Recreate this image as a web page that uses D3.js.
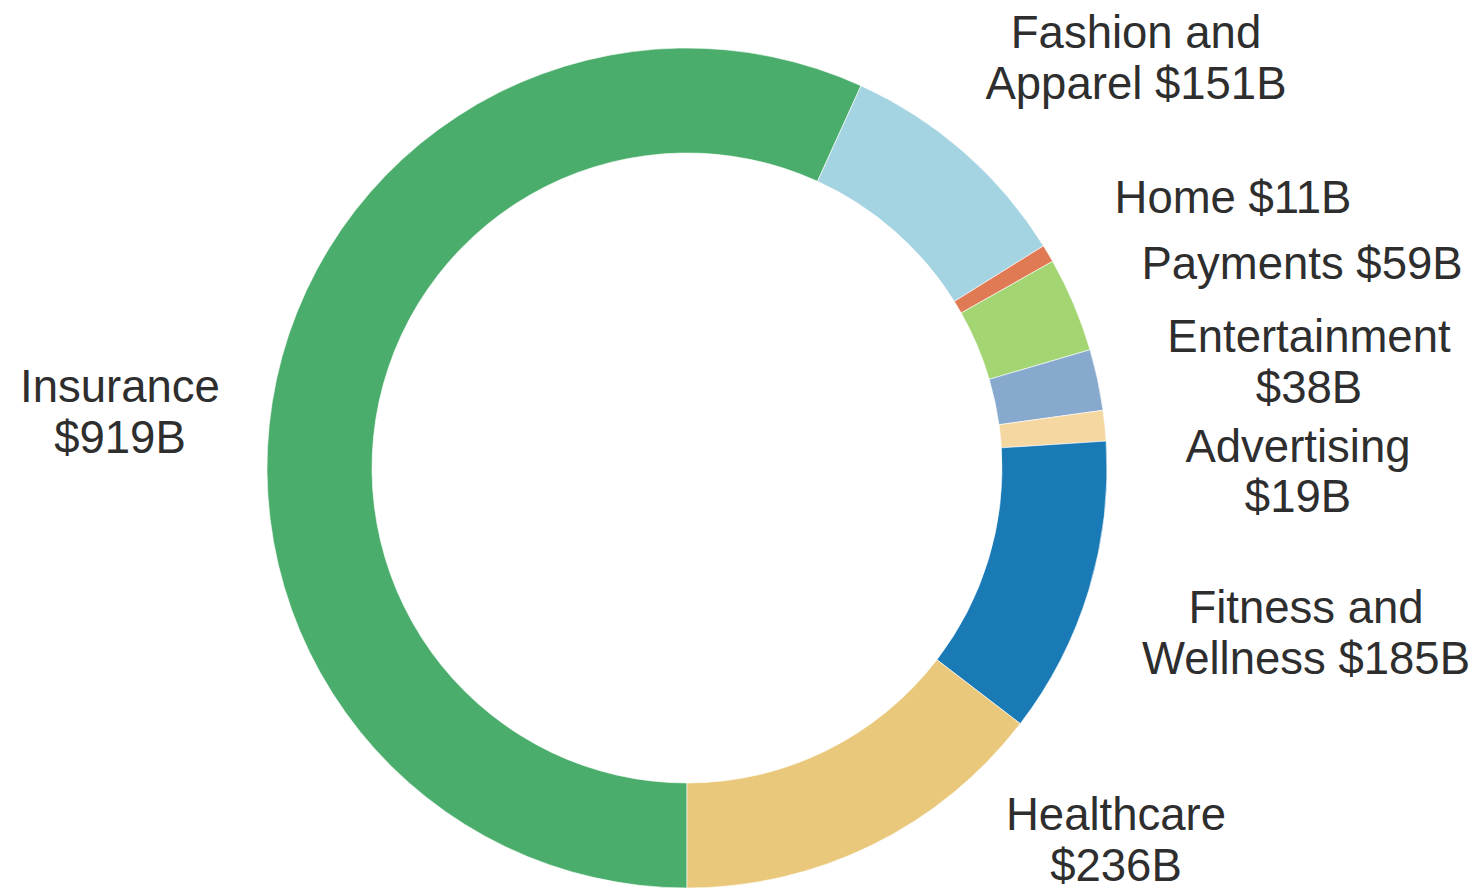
<!DOCTYPE html>
<html>
<head>
<meta charset="utf-8">
<script src="https://cdn.jsdelivr.net/npm/d3@7"></script>
<style>
  html, body { margin: 0; padding: 0; background: #ffffff; }
  svg { display: block; }
</style>
</head>
<body>
<svg id="chart" width="1480" height="892"></svg>
<script>
// Data
const categories = ["Insurance", "Fashion and Apparel", "Home", "Payments", "Entertainment", "Advertising", "Fitness and Wellness", "Healthcare"];
const values = [919, 151, 11, 59, 38, 19, 185, 236];
const colors = ["#4aad6b", "#a4d3e1", "#e07a55", "#a3d673", "#87a9cd", "#f5d7a2", "#1a7ab6", "#e9c87b"];
const labelLines = [
  ["Insurance", "$919B"],
  ["Fashion and", "Apparel $151B"],
  ["Home $11B"],
  ["Payments $59B"],
  ["Entertainment", "$38B"],
  ["Advertising", "$19B"],
  ["Fitness and", "Wellness $185B"],
  ["Healthcare", "$236B"]
];

// Layout
const cx = 687, cy = 468, outerR = 420, innerR = 315;
// label anchor positions (center x, first baseline y)
const labelPos = [
  [120, 402],
  [1136, 48],
  [1233, 213],
  [1302, 279],
  [1309, 352],
  [1298, 462],
  [1306, 623],
  [1116, 830]
];
const lineH = 51;

const svg = d3.select("#chart");
const g = svg.append("g").attr("transform", `translate(${cx},${cy})`);

const data = categories.map((c, i) => ({ name: c, value: values[i], color: colors[i], lines: labelLines[i], pos: labelPos[i] }));

const pie = d3.pie()
  .value(d => d.value)
  .sort(null)
  .startAngle(Math.PI)
  .endAngle(3 * Math.PI);

const arc = d3.arc().innerRadius(innerR).outerRadius(outerR);

g.selectAll("path.slice")
  .data(pie(data))
  .join("path")
  .attr("class", "slice")
  .attr("d", arc)
  .attr("fill", d => d.data.color)
  .attr("stroke", "#ffffff")
  .attr("stroke-width", 0.6);

const labels = svg.append("g")
  .attr("font-family", "'Liberation Sans', Arial, sans-serif")
  .attr("font-size", 45.5)
  .attr("fill", "#2e2e2e")
  .attr("text-anchor", "middle");

data.forEach(d => {
  const t = labels.append("text")
    .attr("x", d.pos[0])
    .attr("y", d.pos[1]);
  d.lines.forEach((ln, j) => {
    t.append("tspan")
      .attr("x", d.pos[0])
      .attr("y", d.pos[1] + j * (d.name === "Advertising" ? 50 : lineH))
      .text(ln);
  });
});
</script>
</body>
</html>
